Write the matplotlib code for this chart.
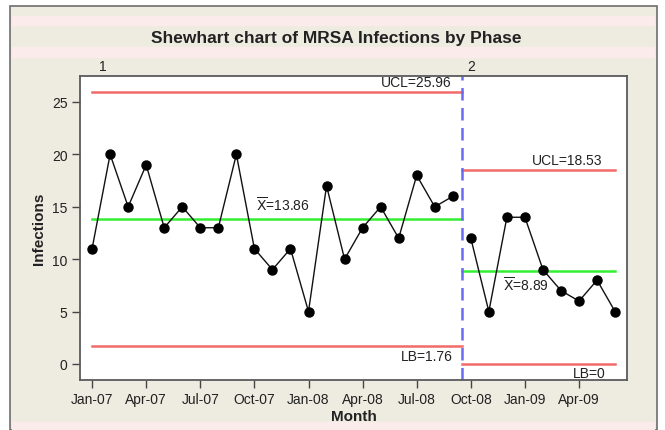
import matplotlib
matplotlib.use("Agg")
import matplotlib.pyplot as plt
from matplotlib.patches import Rectangle

plt.rcParams["font.family"] = ["Liberation Sans", "DejaVu Sans"]
plt.rcParams["text.color"] = "#222222"
plt.rcParams["axes.labelcolor"] = "#222222"
plt.rcParams["xtick.labelcolor"] = "#222222"
plt.rcParams["ytick.labelcolor"] = "#222222"

# данные: инфекции MRSA по месяцам, две фазы
months = ["Jan-07", "Feb-07", "Mar-07", "Apr-07", "May-07", "Jun-07", "Jul-07", "Aug-07",
          "Sep-07", "Oct-07", "Nov-07", "Dec-07", "Jan-08", "Feb-08", "Mar-08", "Apr-08",
          "May-08", "Jun-08", "Jul-08", "Aug-08", "Sep-08", "Oct-08", "Nov-08", "Dec-08",
          "Jan-09", "Feb-09", "Mar-09", "Apr-09", "May-09", "Jun-09"]
phase1 = [11, 20, 15, 19, 13, 15, 13, 13, 20, 11, 9, 11, 5, 17, 10, 13, 15, 12, 18, 15, 16]
phase2 = [12, 5, 14, 14, 9, 7, 6, 8, 5]

ucl = [25.96, 18.53]
mean = [13.86, 8.89]
lb = [1.76, 0]

BG = "#EEEBE1"
PINK = "#FBEBEA"
RED = "#F26B6B"
GREEN = "#33EE33"
BLUE = "#6A6AF2"

fig = plt.figure(figsize=(6.65, 4.31), dpi=100, facecolor="white")

# фон панели с полосами
W, H = 665.0, 431.0
fig.patches.append(Rectangle((10 / W, 0), 647 / W, 1 - 7 / H, transform=fig.transFigure,
                             facecolor=BG, edgecolor="#6E6E6E", linewidth=1.2, zorder=-3))
for y0, y1 in [(17, 27), (48, 59), (423, 431)]:
    fig.patches.append(Rectangle((12 / W, 1 - y1 / H), 643 / W, (y1 - y0) / H,
                                 transform=fig.transFigure, facecolor=PINK,
                                 edgecolor="none", zorder=-2))

ax = fig.add_axes([80 / W, 1 - 381 / H, 547 / W, 304 / H])
ax.set_facecolor("white")

n1 = len(phase1)
n = n1 + len(phase2)
x = list(range(n))
split = n1 - 0.5

# контрольные пределы по фазам
bounds = [(0, split), (split, n - 1)]
for (a, b), u, m, l in zip(bounds, ucl, mean, lb):
    ax.plot([a, b], [u, u], color=RED, lw=1.8, zorder=2)
    ax.plot([a, b], [m, m], color=GREEN, lw=1.8, zorder=2)
    ax.plot([a, b], [l, l], color=RED, lw=1.8, zorder=2)

ax.axvline(split, color=BLUE, lw=1.8, ls=(0, (5, 3)), zorder=2)

ax.plot(x[:n1], phase1, color="#111111", lw=1, marker="o", ms=6.5, mfc="black",
        mec="black", zorder=3)
ax.plot(x[n1:], phase2, color="#111111", lw=1, marker="o", ms=6.5, mfc="black",
        mec="black", zorder=3)

fs = 10
ax.text(19.95, ucl[0] + 0.25, f"UCL={ucl[0]:.2f}", ha="right", va="bottom", fontsize=fs)
ax.text(9.1, mean[0] + 0.5, r"$\overline{\mathrm{X}}$" + f"={mean[0]:.2f}", ha="left",
        va="bottom", fontsize=fs)
ax.text(20.0, lb[0] - 0.3, f"LB={lb[0]:.2f}", ha="right", va="top", fontsize=fs)
ax.text(28.3, ucl[1] + 0.25, f"UCL={ucl[1]:.2f}", ha="right", va="bottom", fontsize=fs)
ax.text(22.8, mean[1] - 0.4, r"$\overline{\mathrm{X}}$" + f"={mean[1]:.2f}", ha="left",
        va="top", fontsize=fs)
ax.text(28.5, lb[1] - 0.2, f"LB={lb[1]:.0f}", ha="right", va="top", fontsize=fs)

# номера фаз над осью
ax.text(0.6, 1.01, "1", transform=ax.get_xaxis_transform(), ha="center", va="bottom", fontsize=fs)
ax.text(21.0, 1.01, "2", transform=ax.get_xaxis_transform(), ha="center", va="bottom", fontsize=fs)

ax.set_xlim(-0.67, 29.66)
ax.set_ylim(-1.53, 27.48)
ax.set_yticks([0, 5, 10, 15, 20, 25])
ax.set_xticks(x[::3])
ax.set_xticklabels(months[::3])
ax.tick_params(length=6, width=1, color="#444444", labelsize=fs, direction="out", pad=3)
for s in ax.spines.values():
    s.set_color("#5A5A5A")
    s.set_linewidth(1.3)

ax.set_xlabel("Month", fontsize=fs + 1, fontweight="bold", labelpad=2)
ax.set_ylabel("Infections", fontsize=fs + 1, fontweight="bold", labelpad=4)

fig.text(336 / W, 1 - 38 / H, "Shewhart chart of MRSA Infections by Phase", ha="center",
         va="center", fontsize=12.5, fontweight="bold")

fig.savefig("out.png", dpi=100, facecolor=fig.get_facecolor())
